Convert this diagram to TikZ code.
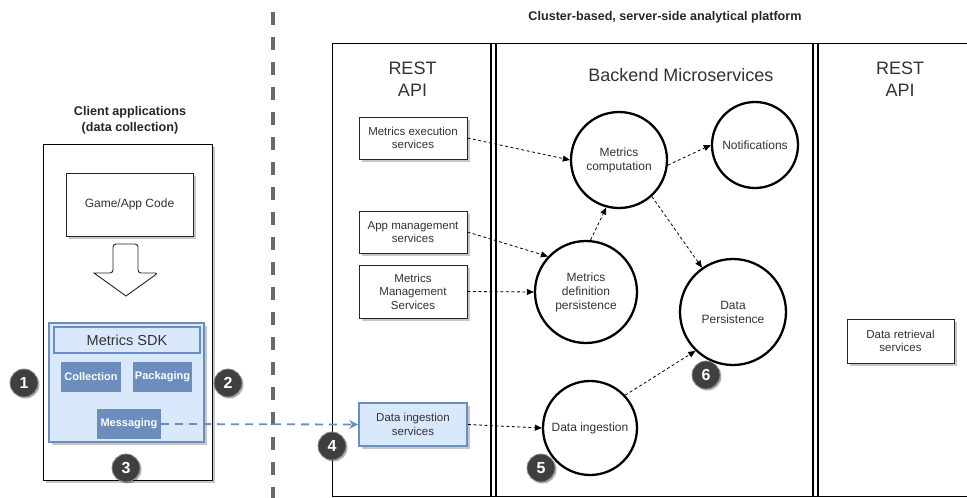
\documentclass[tikz,border=0pt]{standalone}
\usepackage{fontspec}
\setmainfont{Liberation Sans}
\usetikzlibrary{arrows.meta,shadows}
\definecolor{txt}{HTML}{333333}
\definecolor{bluefill}{HTML}{DAE8FC}
\definecolor{blueline}{HTML}{6C8EBF}
\definecolor{badgecol}{HTML}{3F3F3F}
\definecolor{dividercol}{HTML}{6A6A6A}
\tikzset{
  shad/.style={drop shadow={shadow xshift=2.5pt,shadow yshift=-2.5pt,opacity=0.22,fill=black}},
  svcbox/.style={draw=black!85, line width=0.9pt, fill=white, shad, text=txt,
    font=\fontsize{11.5}{13.5}\selectfont, align=center, inner sep=0pt},
  bluebox/.style={svcbox, draw=blueline, fill=bluefill, line width=1.8pt},
  darkbox/.style={draw=none, fill=blueline, text=white, font=\bfseries\fontsize{11}{13}\selectfont,
    inner sep=0pt, minimum height=30pt},
  svc/.style={circle, draw=black, line width=2.3pt, fill=white, text=txt,
    font=\fontsize{12}{14}\selectfont, align=center, inner sep=0pt},
  badge/.style={circle, fill=badgecol, draw=black!45, line width=0.8pt, text=white,
    font=\bfseries\fontsize{16}{16}\selectfont, minimum size=28pt, inner sep=0pt,
    drop shadow={shadow xshift=1.5pt,shadow yshift=-1.5pt,opacity=0.3,fill=black}},
  flow/.style={draw=black, line width=0.8pt, dash pattern=on 3pt off 2.5pt,
    -{Triangle[length=7pt,width=6pt]}},
  title/.style={text=txt, align=center, font=\fontsize{18}{22}\selectfont},
  caption/.style={text=black!85, align=center, font=\bfseries\fontsize{12.6}{16}\selectfont},
  frame/.style={draw=black, line width=1pt}
}
\begin{document}
\begin{tikzpicture}[x=1pt,y=-1pt]
\useasboundingbox (0,0) rectangle (967,498);

% divider
\draw[dividercol, line width=3.5pt, dash pattern=on 12.5pt off 12.5pt] (273,12) -- (273,498);

% cluster frame
\draw[frame] (970,43) -- (332,43) -- (332,496.5) -- (970,496.5);
\draw[frame, line width=1.3pt] (491,43) -- (491,496.5);
\draw[frame, line width=1.3pt] (496,43) -- (496,496.5);
\draw[frame, line width=1.3pt] (813,43) -- (813,496.5);
\draw[frame, line width=1.3pt] (818,43) -- (818,496.5);

\node[caption] (ctitle) at (665,17) {Cluster-based, server-side analytical platform};
\node[title] (rest1) at (412.5,79) {REST\\API};
\node[title] (backend) at (681,75) {Backend Microservices};
\node[title] (rest2) at (900,79) {REST\\API};

% client side
\node[caption] (cltitle) at (130,120) {Client applications\\(data collection)};
\node[draw=black, line width=0.9pt, fill=white, shad, minimum width=169pt, minimum height=336pt, inner sep=0pt] (client) at (127.5,312) {};
\node[svcbox, font=\fontsize{12}{14}\selectfont, minimum width=127pt, minimum height=63pt] (game) at (129.5,204.5) {Game/App Code};
\draw[black!85, line width=0.9pt, fill=white, rounded corners=3pt]
  (94,273) -- (113,273) -- (113,244) -- (138,244) -- (138,273) -- (158,273) [sharp corners] -- (126,296) -- cycle;
\node[draw=blueline, fill=bluefill, line width=2.2pt, shad, minimum width=155pt, minimum height=119pt, inner sep=0pt] (sdk) at (126.5,382.5) {};
\node[draw=blueline, fill=bluefill, line width=1.8pt, minimum width=146pt, minimum height=26pt, inner sep=0pt, text=txt, font=\fontsize{14.5}{16}\selectfont] (sdkhead) at (127,340) {Metrics SDK};
\node[darkbox, minimum width=60pt] (coll) at (91,377) {Collection};
\node[darkbox, minimum width=59pt] (pack) at (162.5,377) {Packaging};
\node[darkbox, minimum width=64pt] (msg) at (129,424) {Messaging};

% REST API left
\node[svcbox, minimum width=108pt, minimum height=42pt] (mes) at (413,138) {Metrics execution\\services};
\node[svcbox, minimum width=108pt, minimum height=42pt] (ams) at (413,232) {App management\\services};
\node[svcbox, minimum width=108pt, minimum height=53pt] (mms) at (413,291.5) {Metrics\\Management\\Services};
\node[bluebox, minimum width=108pt, minimum height=43pt] (dis) at (413,424.5) {Data ingestion\\services};

% REST API right
\node[svcbox, minimum width=107pt, minimum height=44pt] (drs) at (900.5,341) {Data retrieval\\services};

% microservices
\node[svc, minimum size=96pt] (mc) at (619,160) {Metrics\\computation};
\node[svc, minimum size=86pt] (notif) at (755,145) {Notifications};
\node[svc, minimum size=106pt] (dp) at (733,312) {Data\\Persistence};
\node[svc, minimum size=102pt] (mdp) at (586,292) {Metrics\\definition\\persistence};
\node[svc, minimum size=94pt] (di) at (590,428) {Data ingestion};

% connectors
\draw[flow] (mes.east) -- (mc.west);
\draw[flow] (ams.east) -- (mdp.137);
\draw[flow] (mms.east) -- (mdp.west);
\draw[flow] (mdp.85) -- (mc.255);
\draw[flow] (mc.-6) -- (notif.west);
\draw[flow] (mc.-48) -- (dp.125);
\draw[flow] (dis.east) -- (di.west);
\draw[flow] (di.43) -- (dp.226);
\draw[blueline, line width=1.8pt, dash pattern=on 8pt off 6pt, -{Stealth[length=9pt,width=9pt,inset=3pt]}] (msg.east) -- (dis.west);

% badges
\node[badge] (b1) at (24,383) {1};
\node[badge] (b2) at (228,383) {2};
\node[badge] (b3) at (126,468) {3};
\node[badge] (b4) at (332,446) {4};
\node[badge] (b5) at (541,468) {5};
\node[badge] (b6) at (706,375) {6};
\end{tikzpicture}
\end{document}
